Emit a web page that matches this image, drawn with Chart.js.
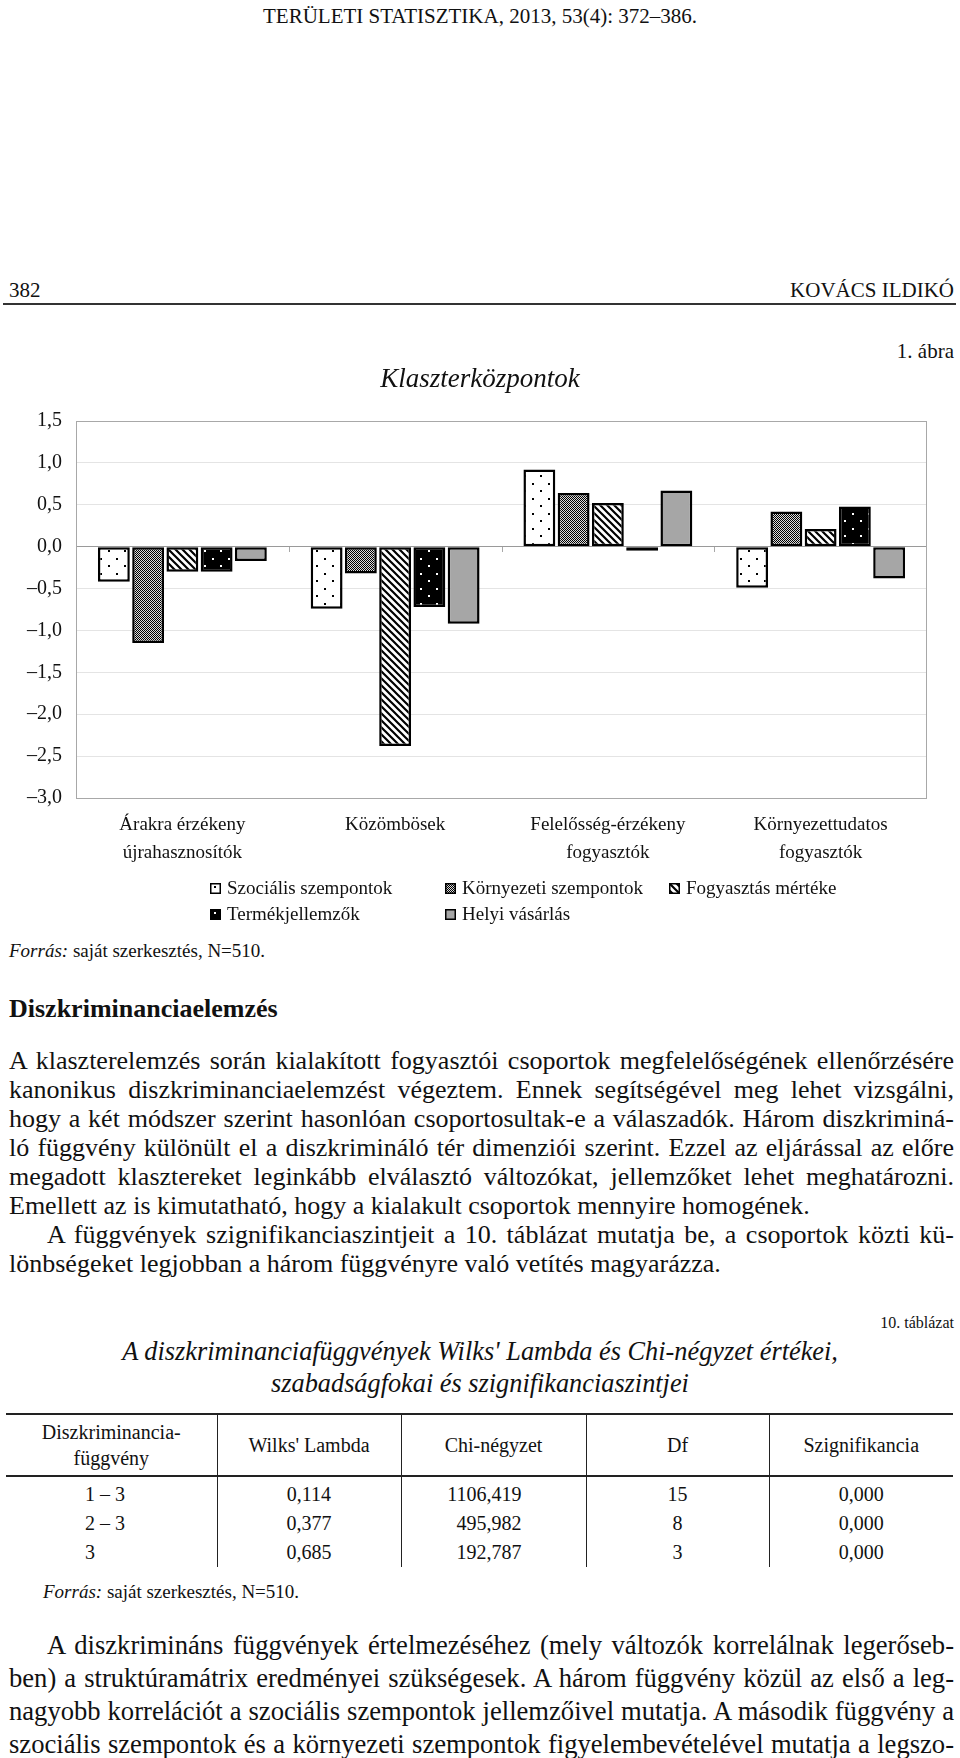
<!DOCTYPE html>
<html lang="hu">
<head>
<meta charset="utf-8">
<script src="https://cdn.jsdelivr.net/npm/chart.js@4"></script>
<style>
  body { margin: 0; width: 960px; height: 1758px; position: relative; background: #fff; color: #111;
         font-family: 'Liberation Serif', 'Times New Roman', serif; overflow: hidden; }
  .t { position: absolute; white-space: nowrap; }
  .j { width: 945px; text-align: justify; text-align-last: justify; white-space: nowrap; }
  .l { width: 945px; text-align: left; white-space: nowrap; }
  #legend { position: absolute; left: 210px; top: 875px; display: grid;
            grid-template-columns: 235px 224px auto; grid-auto-rows: 26px; font-size: 19px; line-height: 26px; }
  #legend div { display: flex; align-items: center; white-space: nowrap; }
  #legend canvas { margin-right: 6px; }
  table { position: absolute; left: 6px; top: 1413px; width: 947px; border-collapse: collapse;
          font-size: 20px; table-layout: fixed; }
  th { font-weight: normal; height: 58px; border-top: 2px solid #222; border-bottom: 2px solid #222; line-height: 26px; }
  td { height: 29px; line-height: 29px; padding: 0; text-align: center; }
  th + th, td + td { border-left: 1.5px solid #222; }
  tbody tr:first-child td { padding-top: 3px; }
</style>
</head>
<body>

<div class="t" style="left:0; width:960px; text-align:center; top:4px; font-size:21px; line-height:24px;">TERÜLETI STATISZTIKA, 2013, 53(4): 372–386.</div>

<div class="t" style="left:9px; top:278px; font-size:21px; line-height:24px;">382</div>
<div class="t" style="right:6px; top:278px; font-size:21px; line-height:24px;">KOVÁCS ILDIKÓ</div>
<div style="position:absolute; left:3px; width:953px; top:303px; height:2px; background:#333;"></div>

<div class="t" style="right:6px; top:339px; font-size:21px; line-height:24px;">1. ábra</div>

<canvas id="chart" width="960" height="520" style="position:absolute; left:0; top:360px; width:960px; height:520px;"></canvas>
<div id="legend"></div>

<div class="t" style="left:9px; top:940px; font-size:19px; line-height:22px;"><i>Forrás:</i> saját szerkesztés, N=510.</div>

<div class="t" style="left:9px; top:994px; font-size:26px; line-height:30px; font-weight:bold;">Diszkriminanciaelemzés</div>

<div class="t" style="left:9px; top:1045.5px; font-size:26px; line-height:29.1px;">
  <div class="j">A klaszterelemzés során kialakított fogyasztói csoportok megfelelőségének ellenőrzésére</div>
  <div class="j">kanonikus diszkriminanciaelemzést végeztem. Ennek segítségével meg lehet vizsgálni,</div>
  <div class="j">hogy a két módszer szerint hasonlóan csoportosultak-e a válaszadók. Három diszkriminá-</div>
  <div class="j">ló függvény különült el a diszkrimináló tér dimenziói szerint. Ezzel az eljárással az előre</div>
  <div class="j">megadott klasztereket leginkább elválasztó változókat, jellemzőket lehet meghatározni.</div>
  <div class="l">Emellett az is kimutatható, hogy a kialakult csoportok mennyire homogének.</div>
  <div class="j" style="padding-left:38px; width:907px;">A függvények szignifikanciaszintjeit a 10. táblázat mutatja be, a csoportok közti kü-</div>
  <div class="l">lönbségeket legjobban a három függvényre való vetítés magyarázza.</div>
</div>

<div class="t" style="right:6px; top:1312px; font-size:16px; line-height:22px;">10. táblázat</div>
<div class="t" style="left:0; width:960px; text-align:center; top:1336px; font-size:26.3px; line-height:32px; font-style:italic;">A diszkriminanciafüggvények Wilks' Lambda és Chi-négyzet értékei,<br>szabadságfokai és szignifikanciaszintjei</div>

<table>
  <colgroup><col style="width:211px"><col style="width:184px"><col style="width:185px"><col style="width:183px"><col style="width:184px"></colgroup>
  <thead id="thead"></thead>
  <tbody id="tbody"></tbody>
</table>

<div class="t" style="left:43px; top:1581px; font-size:19px; line-height:22px;"><i>Forrás:</i> saját szerkesztés, N=510.</div>

<div class="t" style="left:9px; top:1628.5px; font-size:26.6px; line-height:33px;">
  <div class="j" style="padding-left:38px; width:907px;">A diszkrimináns függvények értelmezéséhez (mely változók korrelálnak legerőseb-</div>
  <div class="j">ben) a struktúramátrix eredményei szükségesek. A három függvény közül az első a leg-</div>
  <div class="j">nagyobb korrelációt a szociális szempontok jellemzőivel mutatja. A második függvény a</div>
  <div class="j">szociális szempontok és a környezeti szempontok figyelembevételével mutatja a legszo-</div>
</div>

<script>
// Chart data (cluster centres)
const categories = [
    ['Árakra érzékeny', 'újrahasznosítók'],
    ['Közömbösek'],
    ['Felelősség-érzékeny', 'fogyasztók'],
    ['Környezettudatos', 'fogyasztók']
];
const seriesNames = ['Szociális szempontok', 'Környezeti szempontok', 'Fogyasztás mértéke', 'Termékjellemzők', 'Helyi vásárlás'];
const szocialis = [-0.42, -0.74, 0.92, -0.49];
const kornyezeti = [-1.15, -0.32, 0.64, 0.42];
const fogyasztas = [-0.30, -2.38, 0.52, 0.21];
const termek = [-0.30, -0.72, -0.05, 0.48];
const helyi = [-0.17, -0.92, 0.67, -0.38];
const yMin = -3, yMax = 1.5, yStep = 0.5;

// Table data
const tableHeader = ['Diszkriminancia-<br>függvény', "Wilks' Lambda", 'Chi-négyzet', 'Df', 'Szignifikancia'];
const tableFunctions = ['1 – 3', '2 – 3', '3'];
const wilksLambda = ['0,114', '0,377', '0,685'];
const chiSquare = ['1106,419', '495,982', '192,787'];
const df = ['15', '8', '3'];
const significance = ['0,000', '0,000', '0,000'];

const fontFamily = "'Liberation Serif', 'Times New Roman', serif";

// Fill patterns like the printed black & white chart
function makePattern(w, h, draw) {
    const c = document.createElement('canvas');
    c.width = w;
    c.height = h;
    const g = c.getContext('2d');
    draw(g, w, h);
    return g.createPattern(c, 'repeat');
}

const dotsOnWhite = makePattern(16, 15, (g, w, h) => {
    g.fillStyle = '#fff'; g.fillRect(0, 0, w, h);
    g.fillStyle = '#000'; g.fillRect(4, 3, 2, 2); g.fillRect(12, 10, 2, 2);
});
const checker = makePattern(2, 2, (g) => {
    g.fillStyle = '#dcdcdc'; g.fillRect(0, 0, 2, 2);
    g.fillStyle = '#000'; g.fillRect(0, 0, 1, 1); g.fillRect(1, 1, 1, 1);
});
const diagonal = makePattern(7, 7, (g, w, h) => {
    g.fillStyle = '#fff'; g.fillRect(0, 0, w, h);
    g.strokeStyle = '#000'; g.lineWidth = 2.2;
    g.beginPath();
    for (let k = -1; k <= 1; k++) {
        g.moveTo(-1, k * 7 - 1);
        g.lineTo(8, k * 7 + 8);
    }
    g.stroke();
});
const dotsOnBlack = makePattern(16, 15, (g, w, h) => {
    g.fillStyle = '#000'; g.fillRect(0, 0, w, h);
    g.fillStyle = '#fff'; g.fillRect(4, 3, 2, 2); g.fillRect(12, 10, 2, 2);
});

const fills = [dotsOnWhite, checker, diagonal, dotsOnBlack, '#a6a6a6'];
const seriesData = [szocialis, kornyezeti, fogyasztas, termek, helyi];

const datasets = seriesNames.map((name, i) => ({
    label: name,
    data: seriesData[i],
    backgroundColor: fills[i],
    borderColor: '#000',
    borderWidth: 2.5,
    borderSkipped: false,
    categoryPercentage: 0.805,
    barPercentage: 0.93
}));

// Right frame line and the small category ticks on the zero line
const framePlugin = {
    id: 'frame',
    beforeDatasetsDraw(chart) {
        const { ctx, chartArea: a, scales: { x, y } } = chart;
        ctx.save();
        ctx.strokeStyle = '#a8a8a8';
        ctx.lineWidth = 1;
        ctx.beginPath();
        ctx.moveTo(a.right - 0.5, a.top);
        ctx.lineTo(a.right - 0.5, a.bottom);
        const y0 = Math.round(y.getPixelForValue(0));
        for (let i = 1; i < categories.length; i++) {
            const px = Math.round((x.getPixelForTick(i - 1) + x.getPixelForTick(i)) / 2) + 0.5;
            ctx.moveTo(px, y0);
            ctx.lineTo(px, y0 + 5);
        }
        ctx.stroke();
        ctx.restore();
    }
};

const chart = new Chart(document.getElementById('chart').getContext('2d'), {
    type: 'bar',
    data: { labels: categories, datasets: datasets },
    plugins: [framePlugin],
    options: {
        responsive: false,
        animation: false,
        devicePixelRatio: 1,
        layout: { padding: 0 },
        plugins: {
            legend: { display: false },
            tooltip: { enabled: false },
            title: {
                display: true,
                text: 'Klaszterközpontok',
                color: '#111',
                font: { family: fontFamily, size: 27, style: 'italic', weight: 'normal' },
                padding: { top: 4, bottom: 24.6 }
            }
        },
        scales: {
            x: {
                grid: { display: false },
                border: { display: false },
                ticks: {
                    color: '#111',
                    font: { family: fontFamily, size: 19, lineHeight: 28 / 19 },
                    padding: 5,
                    maxRotation: 0,
                    autoSkip: false
                },
                afterFit(scale) { scale.height = 82; }
            },
            y: {
                min: yMin,
                max: yMax,
                border: { color: '#a8a8a8' },
                grid: {
                    drawTicks: false,
                    color: (c) => {
                        const v = c.tick && c.tick.value;
                        if (v === 0) return '#9a9a9a';
                        if (v === yMin || v === yMax) return '#a8a8a8';
                        return '#e4e4e4';
                    }
                },
                ticks: {
                    stepSize: yStep,
                    color: '#111',
                    padding: 14,
                    font: { family: fontFamily, size: 20 },
                    callback: (v) => Number(v).toFixed(1).replace('.', ',').replace('-', '–')
                },
                afterFit(scale) { scale.width = 76; }
            },
            // empty right margin so the title stays centred on the page
            gap: {
                position: 'right',
                grid: { display: false },
                border: { display: false },
                ticks: { display: false },
                afterFit(scale) { scale.width = 33; }
            }
        }
    }
});

// HTML legend in a grid, swatches filled with the same patterns
const legendBox = document.getElementById('legend');
Chart.defaults.plugins.legend.labels.generateLabels(chart).forEach(item => {
    const row = document.createElement('div');
    const sw = document.createElement('canvas');
    sw.width = 11;
    sw.height = 11;
    const g = sw.getContext('2d');
    g.fillStyle = item.fillStyle;
    g.fillRect(0, 0, 11, 11);
    g.strokeStyle = '#000';
    g.lineWidth = 1.5;
    g.strokeRect(0.75, 0.75, 9.5, 9.5);
    row.appendChild(sw);
    row.appendChild(document.createTextNode(item.text));
    legendBox.appendChild(row);
});

// Table
const thead = document.getElementById('thead');
const htr = document.createElement('tr');
tableHeader.forEach(h => {
    const th = document.createElement('th');
    th.innerHTML = h;
    htr.appendChild(th);
});
thead.appendChild(htr);

const tbody = document.getElementById('tbody');
tableFunctions.forEach((f, i) => {
    const tr = document.createElement('tr');
    const cells = [f, wilksLambda[i], chiSquare[i], df[i], significance[i]];
    cells.forEach((v, j) => {
        const td = document.createElement('td');
        td.textContent = v;
        if (j === 0) { td.style.textAlign = 'left'; td.style.paddingLeft = '79px'; }
        if (j === 2) { td.style.textAlign = 'right'; td.style.paddingRight = '64px'; }
        tr.appendChild(td);
    });
    tbody.appendChild(tr);
});
</script>
</body>
</html>
